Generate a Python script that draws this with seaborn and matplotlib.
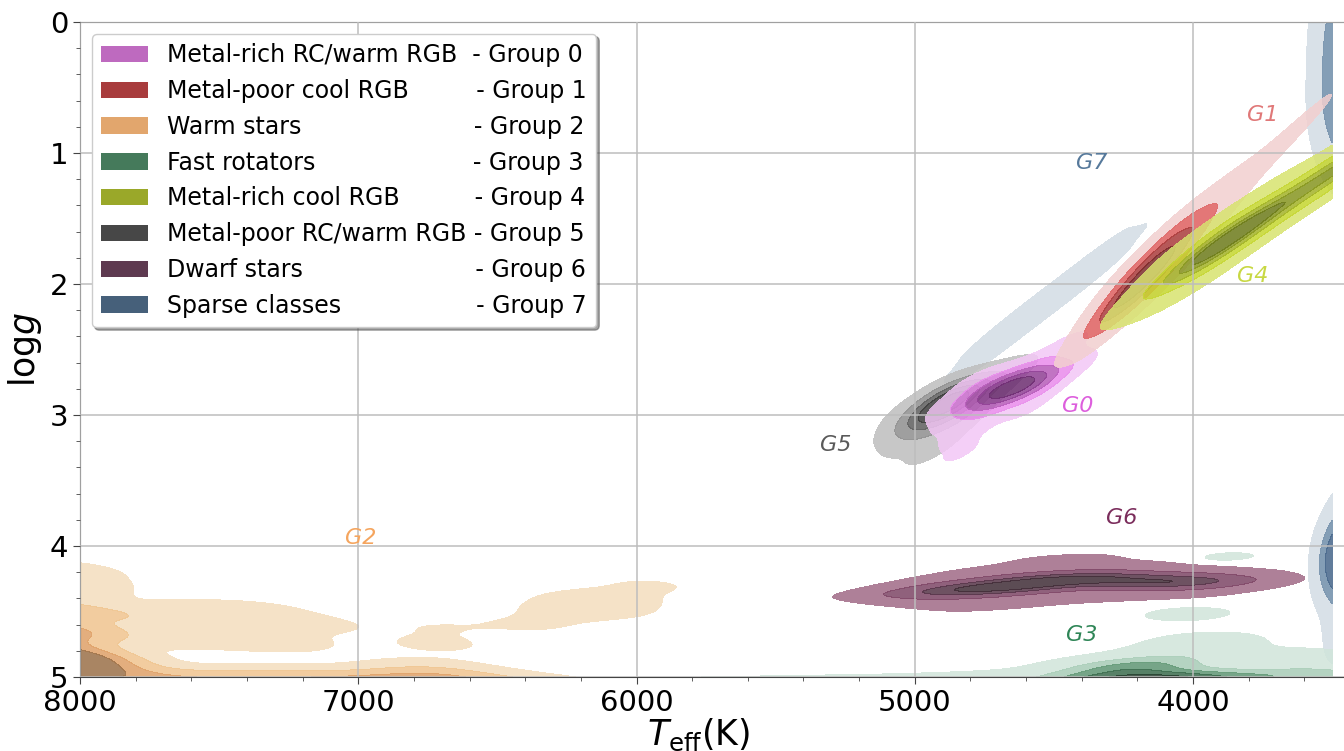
import numpy as np
import pandas as pd
import matplotlib
matplotlib.use("Agg")
import matplotlib.pyplot as plt
from matplotlib.patches import Patch
from matplotlib.ticker import MultipleLocator
import seaborn as sns

sns.set_style("ticks")
plt.rcParams['font.family'] = ['DejaVu Sans']

# ---------------- data (Teff [K], logg, weight) ----------------
# Group 0 - metal-rich RC / warm RGB
g0_teff = [4820, 4760, 4700, 4650, 4600, 4550, 4500, 4440,
           4780, 4700, 4620, 4540, 4780, 4700, 4620, 4540,
           4870, 4850, 4860, 4820, 4760, 4800, 4470, 4420, 4520, 4400, 4600, 4900]
g0_logg = [2.90, 2.85, 2.82, 2.79, 2.76, 2.73, 2.69, 2.62,
           2.76, 2.74, 2.69, 2.64, 2.95, 2.90, 2.85, 2.80,
           3.05, 3.20, 3.32, 3.10, 3.05, 3.25, 2.50, 2.40, 2.55, 2.60, 2.95, 2.95]
g0_w    = [2, 4, 7, 8, 6, 4, 2, 1,
           2, 3, 3, 2, 2, 3, 3, 2,
           1, 0.8, 0.6, 1, 0.8, 0.5, 0.8, 0.6, 0.6, 0.4, 1, 0.8]

# Group 1 - metal-poor cool RGB
g1_teff = [4340, 4260, 4200, 4140, 4060, 3980, 3900, 3800, 3700, 3600, 3500,
           4300, 4200, 4100, 4000, 3850, 3650,
           4300, 4200, 4100, 4000, 3850, 3650,
           4250, 4100, 4100]
g1_logg = [2.29, 2.12, 2.00, 1.88, 1.71, 1.54, 1.38, 1.17, 0.97, 0.76, 0.55,
           2.11, 1.90, 1.69, 1.49, 1.17, 0.76,
           2.31, 2.10, 1.89, 1.69, 1.37, 0.96,
           1.90, 1.59, 1.99]
g1_w    = [0.4, 5, 8, 5, 2.5, 1.5, 0.9, 0.6, 0.5, 0.5, 0.5,
           0.5, 5, 4, 1.2, 0.4, 0.3,
           0.5, 5, 4, 1.2, 0.4, 0.3,
           0.8, 0.7, 0.7]

# Group 2 - warm stars
g2_teff = [8080, 8100, 8120, 8060, 8020, 8150, 8150, 8100, 8050, 7980,
           7850, 7700, 7550, 7400, 7250, 7100, 6950, 6800, 6650, 6500, 6350, 6200, 6750, 6720, 6720,
           7800, 7600, 7400, 7200, 7700, 7450, 7250,
           6380, 6250, 6100, 5950, 6200, 6050]
g2_logg = [4.85, 4.65, 4.97, 4.50, 4.90, 4.75, 4.35, 4.20, 4.30, 4.95,
           5.00, 5.02, 5.03, 5.03, 5.02, 5.03, 5.04, 5.03, 5.04, 5.05, 5.08, 5.08, 4.95, 4.75, 4.62,
           4.55, 4.50, 4.50, 4.60, 4.70, 4.70, 4.75,
           4.60, 4.50, 4.40, 4.30, 4.42, 4.50]
g2_w    = [9, 6, 9, 3, 4, 5, 2, 1.5, 1, 2,
           2, 2, 2, 2, 2, 2, 2.5, 3, 2.5, 1.5, 0.8, 0.4, 1.5, 0.6, 0.4,
           1, 1, 0.9, 0.8, 1, 0.9, 0.6,
           0.5, 0.6, 0.6, 0.5, 0.4, 0.3]

# Group 3 - fast rotators
g3_teff = [4250, 4150, 4050, 4330, 3950, 3850, 3720, 3600, 3500, 4450, 4600, 4100, 4000, 3950,
           4020, 3870, 4800, 5050, 5300, 5550, 5800, 3650, 4200, 4300, 4200, 4150, 4300]
g3_logg = [5.04, 5.03, 5.02, 5.03, 5.02, 5.01, 5.00, 4.98, 4.97, 5.02, 5.03, 4.88, 4.80, 4.72,
           4.52, 4.08, 5.02, 5.03, 5.03, 5.04, 5.04, 4.85, 4.92, 4.95, 4.95, 4.90, 4.93]
g3_w    = [8, 8, 6, 5, 4, 3, 2.5, 2, 2, 2, 1, 2, 1.5, 0.8,
           0.6, 0.4, 0.6, 0.5, 0.4, 0.4, 0.4, 1, 2, 2, 3, 1.5, 1.5]

# Group 4 - metal-rich cool RGB
g4_teff = [4170, 4090, 4010, 3940, 3880, 3820, 3740, 3660, 3580, 3500, 3440, 3380,
           4100, 3950, 3880, 3800, 3650, 3500, 3420,
           4100, 3950, 3880, 3800, 3650, 3500, 3420,
           3900, 3600, 3900, 3600, 4050, 4050]
g4_logg = [2.16, 2.00, 1.86, 1.75, 1.66, 1.58, 1.48, 1.37, 1.26, 1.14, 1.06, 0.98,
           1.92, 1.67, 1.56, 1.45, 1.26, 1.04, 0.94,
           2.12, 1.87, 1.76, 1.65, 1.46, 1.24, 1.14,
           1.49, 1.01, 1.89, 1.41, 1.72, 2.12]
g4_w    = [0.3, 2, 3, 5, 8, 5, 2.5, 2, 2, 3, 5, 5,
           0.5, 2.5, 3, 2, 1, 2, 3,
           0.5, 2.5, 3, 2, 1, 2, 3,
           1, 1, 1, 1, 0.6, 0.4]

# Group 5 - metal-poor RC / warm RGB
g5_teff = [5060, 5000, 4950, 4910, 4870, 4830, 4780, 4720, 4650, 4590,
           4960, 4890, 4820, 4960, 4890, 4820, 5040, 4980, 4920, 4700, 5060, 4760, 4860]
g5_logg = [3.12, 3.04, 2.97, 2.93, 2.90, 2.87, 2.82, 2.76, 2.68, 2.60,
           3.10, 3.02, 2.97, 2.88, 2.82, 2.78, 3.22, 3.30, 3.25, 2.66, 3.00, 2.92, 3.12]
g5_w    = [1, 2, 4, 6, 7, 6, 3, 1.5, 0.8, 0.5,
           2.5, 3, 2, 1.5, 2, 1.5, 1, 0.8, 0.8, 0.5, 0.8, 0.6, 1]

# Group 6 - dwarf stars
g6_teff = [5100, 4980, 4860, 4740, 4620, 4500, 4380, 4260, 4140, 4020, 3900, 3780,
           5000, 4800, 4600, 4400, 4200, 4000, 3800,
           5000, 4800, 4600, 4400, 4200, 4000, 3800,
           4950, 4700, 4450, 4200, 3950,
           4950, 4700, 4450, 4200, 3950,
           4900, 4700, 4500, 4300, 4700, 4500, 4400, 4200]
g6_logg = [4.37, 4.36, 4.34, 4.32, 4.30, 4.26, 4.24, 4.26, 4.27, 4.28, 4.27, 4.26,
           4.41, 4.38, 4.34, 4.29, 4.31, 4.33, 4.31,
           4.31, 4.28, 4.24, 4.19, 4.22, 4.23, 4.21,
           4.46, 4.43, 4.36, 4.38, 4.39,
           4.24, 4.20, 4.13, 4.16, 4.17,
           4.52, 4.47, 4.42, 4.41, 4.17, 4.10, 4.08, 4.13]
g6_w    = [1, 2, 3, 5, 5, 5, 4, 3.5, 4, 4, 2, 0.6,
           1.2, 2.5, 2.5, 2, 2, 2, 0.6,
           1, 2.5, 2.5, 2, 2, 2, 0.6,
           0.6, 1, 0.8, 0.6, 0.5,
           0.5, 1, 1, 0.6, 0.5,
           0.4, 0.5, 0.5, 0.4, 0.5, 0.6, 0.5, 0.4]

# Group 7 - sparse classes (three separate clumps)
g7a_teff = [4740, 4680, 4620, 4560, 4500, 4440, 4380, 4320,
            4710, 4590, 4470, 4350, 4710, 4590, 4470, 4350]
g7a_logg = [2.49, 2.39, 2.29, 2.20, 2.10, 2.00, 1.90, 1.80,
            2.37, 2.17, 1.98, 1.78, 2.51, 2.31, 2.12, 1.92]
g7a_w    = [1] * 8 + [0.7] * 8
g7b_teff = [3340, 3400, 3460, 3490, 3370, 3440, 3480, 3350, 3420, 3470, 3380, 3450, 3330]
g7b_logg = [0.00, 0.20, 0.40, 0.60, 0.80, 0.50, 0.15, 0.35, 0.70, -0.05, 0.55, 0.85, 0.25]
g7b_w    = [1, 1, 1, 1, 1, 1, 1, 1, 1, 1, 1, 0.8, 1]
g7c_teff = [3420, 3380, 3460, 3490, 3440, 3350, 3420, 3470, 3480, 3400, 3330, 3450]
g7c_logg = [4.10, 4.00, 4.20, 4.05, 3.80, 3.60, 4.45, 4.65, 4.15, 4.30, 4.10, 3.95]
g7c_w    = [3, 2, 2, 2.5, 1, 0.6, 1, 0.6, 2, 1, 1, 1.5]

legend_names = ["Metal-rich RC/warm RGB", "Metal-poor cool RGB", "Warm stars", "Fast rotators",
                "Metal-rich cool RGB", "Metal-poor RC/warm RGB", "Dwarf stars", "Sparse classes"]
legend_colors = ["#BE6ABF", "#A83C3D", "#E2A66D", "#457A5B", "#9AA829", "#474747", "#5E3A50", "#46607A"]

tag_names  = ["G0", "G1", "G2", "G3", "G4", "G5", "G6", "G7"]
tag_teff   = [4413, 3748, 6990, 4399, 3784, 5286, 4258, 4363]
tag_logg   = [2.93, 0.71, 3.94, 4.68, 1.94, 3.23, 3.79, 1.08]
tag_colors = ["#DD5EDD", "#E07878", "#F5A55E", "#2E8556", "#C8D843", "#5A5A5A", "#7B2D5C", "#56799B"]

band_colors = {
    0: ['#F3C7F6', '#E98BEC', '#B65CB9', '#8E3F93', '#6C2C70'],
    1: ['#F2CFCF', '#DE5F5F', '#A93B3B', '#7C2A2A'],
    2: ['#F4DDBE', '#F0C48E', '#DFA067', '#9A7048'],
    3: ['#D0E5DA', '#A7CCB6', '#5E9673', '#3A6B4C', '#253E2E'],
    4: ['#D7E36F', '#C5D62E', '#A2B227', '#869520', '#6C7A1A'],
    5: ['#BDBDBD', '#8E8E8E', '#5E5E5E', '#3C3C3C', '#222222'],
    6: ['#A06A86', '#7D4565', '#553447', '#3F2C36'],
    7: ['#D3DCE4', '#6F8DA9', '#45658A'],
}

# ---------------- figure ----------------
W, H = 1344, 751
fig = plt.figure(figsize=(W / 100, H / 100), dpi=100)
ax = fig.add_axes([80 / W, 74 / H, 1280 / W, 655 / H])

CLIP = ((3500, 9500), (-1.5, 6.5))
ALPHA = 0.85


def kde(x, y, w, cols, bw, thresh=0.05):
    df = pd.DataFrame({"teff": np.asarray(x, float), "logg": np.asarray(y, float),
                       "w": np.asarray(w, float)})
    sns.kdeplot(data=df, x="teff", y="logg", weights="w", fill=True,
                levels=len(cols) + 1, thresh=thresh, bw_adjust=bw, color=cols[-1],
                colors=cols, alpha=ALPHA, clip=CLIP, gridsize=250, ax=ax)


kde(g7a_teff, g7a_logg, g7a_w, band_colors[7][:1], 1.0)
kde(g7b_teff, g7b_logg, g7b_w, band_colors[7][:2], 1.3)
kde(g7c_teff, g7c_logg, g7c_w, band_colors[7], 1.2)
kde(g2_teff, g2_logg, g2_w, band_colors[2], 0.4)
kde(g3_teff, g3_logg, g3_w, band_colors[3], 0.65, thresh=0.03)
kde(g6_teff, g6_logg, g6_w, band_colors[6], 0.8)
kde(g5_teff, g5_logg, g5_w, band_colors[5], 1.2)
kde(g0_teff, g0_logg, g0_w, band_colors[0], 1.0)
kde(g1_teff, g1_logg, g1_w, band_colors[1], 1.1)
kde(g4_teff, g4_logg, g4_w, band_colors[4], 1.15)

ax.set_xlim(8000, 3400)
ax.set_ylim(5, 0)
ax.xaxis.set_major_locator(MultipleLocator(1000))
ax.xaxis.set_minor_locator(MultipleLocator(200))
ax.yaxis.set_major_locator(MultipleLocator(1))
ax.yaxis.set_minor_locator(MultipleLocator(0.2))
ax.tick_params(axis='both', which='major', labelsize=21, length=5, color='#444444',
               labelcolor='black')
ax.tick_params(axis='both', which='minor', length=3, color='#444444')
ax.grid(True, which='major', color='#BDBDBD', linewidth=1.1)
ax.set_axisbelow(False)
for s in ax.spines.values():
    s.set_color('#444444')
ax.spines['right'].set_visible(False)

ax.set_xlabel(r"$T_{\rm eff}$(K)", fontsize=25, color='black')
ax.set_ylabel(r"log$g$", fontsize=25, color='black')
ax.xaxis.set_label_coords((699 - 80) / 1280, -0.06)

for name, tx, ty, c in zip(tag_names, tag_teff, tag_logg, tag_colors):
    ax.text(tx, ty, name, color=c, fontsize=16, fontstyle='italic', ha='center', va='center')

# legend labels padded with spaces so that the "- Group N" parts line up
renderer = fig.canvas.get_renderer()
def text_w(s):
    t = fig.text(0, 0, s, fontsize=17)
    wd = t.get_window_extent(renderer).width
    t.remove()
    return wd
widths = [text_w(n) for n in legend_names]
sp = text_w("a a") - text_w("aa")
maxw = max(widths)
labels = [n + " " * (int(round((maxw - wd) / sp)) + 1) + f"- Group {i}"
          for i, (n, wd) in enumerate(zip(legend_names, widths))]
handles = [Patch(facecolor=c, edgecolor='none') for c in legend_colors]
leg = ax.legend(handles, labels, loc='upper left', fontsize=17, labelspacing=0.5,
                shadow=True, framealpha=1, edgecolor='#CCCCCC', borderaxespad=0.5)
for t in leg.get_texts():
    t.set_color('black')

fig.savefig("out.png", dpi=100)
